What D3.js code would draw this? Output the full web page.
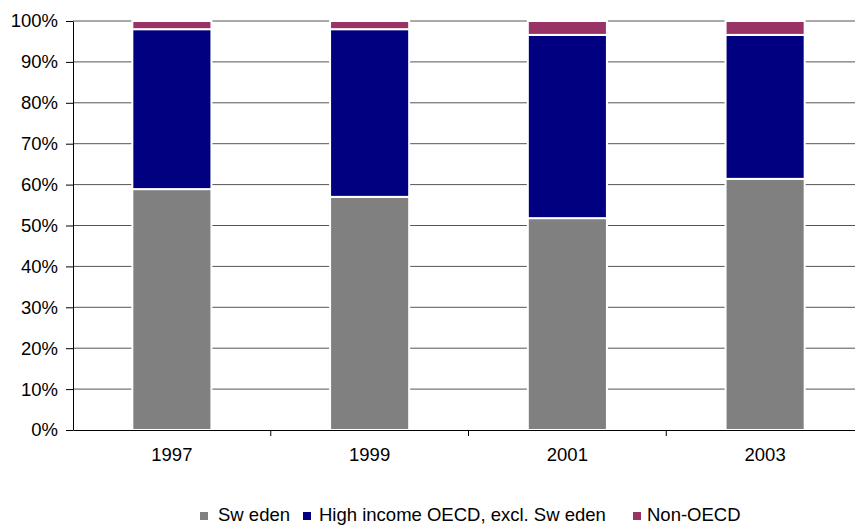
<!DOCTYPE html>
<html>
<head>
<meta charset="utf-8">
<script src="https://cdn.jsdelivr.net/npm/d3@7"></script>
<style>
  body { margin: 0; background: #fff; }
  text { font-family: "Liberation Sans", Arial, sans-serif; }
</style>
</head>
<body>
<div id="chart"></div>
<script>
// data (shares in %)
var years = ["1997", "1999", "2001", "2003"];
var sweden = [58.9, 57.0, 51.8, 61.4];
var highIncome = [39.1, 41.0, 44.8, 35.2];
var nonOecd = [2.0, 2.0, 3.4, 3.4];
var seriesNames = ["Sw eden", "High income OECD, excl. Sw eden", "Non-OECD"];
var yTicks = [0, 10, 20, 30, 40, 50, 60, 70, 80, 90, 100];

var W = 855, H = 525;
var margin = {top: 21, right: -9, bottom: 95, left: 73};
var width = W - margin.left - margin.right;
var height = H - margin.top - margin.bottom;

var svg = d3.select("#chart").append("svg")
    .attr("width", W).attr("height", H);
var g = svg.append("g")
    .attr("transform", "translate(" + margin.left + "," + margin.top + ")");

var rows = years.map(function(y, i) {
  return {year: y, s0: sweden[i], s1: highIncome[i], s2: nonOecd[i]};
});
var stack = d3.stack().keys(["s0", "s1", "s2"])(rows);

var x = d3.scaleBand().domain(years).range([0, width]).paddingInner(0).paddingOuter(0);
var y = d3.scaleLinear().domain([0, 100]).range([height, 0]);
var color = d3.scaleOrdinal().domain(["s0", "s1", "s2"]).range(["#808080", "#000080", "#993366"]);

// gridlines
g.append("g").selectAll("line")
  .data(yTicks.filter(function(d) { return d > 0; }))
  .enter().append("line")
    .attr("x1", 0).attr("x2", width)
    .attr("y1", function(d) { return y(d); })
    .attr("y2", function(d) { return y(d); })
    .attr("stroke", "#555").attr("stroke-width", 1);

// bars
var bw = x.bandwidth() * 0.4;
g.append("g").selectAll("g")
  .data(stack)
  .enter().append("g")
    .attr("fill", function(d) { return color(d.key); })
  .selectAll("rect")
  .data(function(d) { return d; })
  .enter().append("rect")
    .attr("x", function(d) { return x(d.data.year) + (x.bandwidth() - bw) / 2; })
    .attr("width", bw)
    .attr("y", function(d) { return y(d[1]); })
    .attr("height", function(d) { return y(d[0]) - y(d[1]); })
    .attr("stroke", "#fff").attr("stroke-width", 2);

// y axis
var yAxis = g.append("g")
  .call(d3.axisLeft(y).tickValues(yTicks).tickSize(7).tickSizeOuter(0)
    .tickFormat(function(d) { return d + "%"; }));
yAxis.select(".domain").attr("stroke", "#000");
yAxis.selectAll(".tick line").attr("stroke", "#000");
yAxis.selectAll("text").style("font-size", "18.5px").attr("fill", "#000").attr("x", -15);

// x axis
var xAxis = g.append("g")
  .attr("transform", "translate(0," + height + ")")
  .call(d3.axisBottom(x).tickSize(0).tickSizeOuter(0));
xAxis.select(".domain").attr("stroke", "#000");
xAxis.selectAll("text").style("font-size", "18.5px").attr("fill", "#000").attr("dy", "1.5em");
xAxis.selectAll(".sep")
  .data(years.slice(1))
  .enter().append("line")
    .attr("class", "sep")
    .attr("x1", function(d) { return x(d); })
    .attr("x2", function(d) { return x(d); })
    .attr("y1", 0).attr("y2", 6)
    .attr("stroke", "#000");

// legend
var legMark = [200, 303, 633];
var legText = [218, 319, 647];
var legend = svg.append("g");
seriesNames.forEach(function(name, i) {
  legend.append("rect")
    .attr("x", legMark[i]).attr("y", 512)
    .attr("width", 8).attr("height", 8)
    .attr("fill", color.range()[i]);
  legend.append("text")
    .attr("x", legText[i]).attr("y", 516)
    .attr("dominant-baseline", "middle")
    .style("font-size", "18.5px")
    .text(name);
});
</script>
</body>
</html>
